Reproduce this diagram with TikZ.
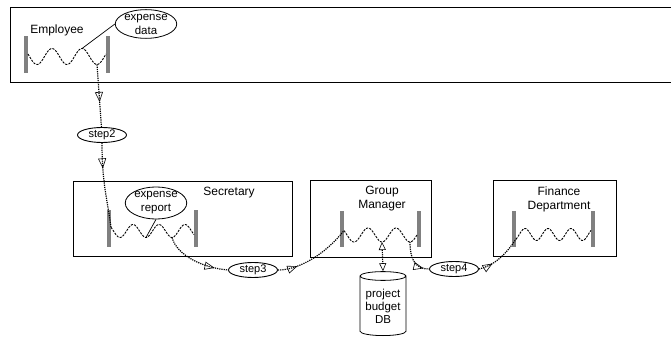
\documentclass[tikz,border=0pt]{standalone}
\usepackage{fontspec}
\setmainfont{Liberation Sans}
\usetikzlibrary{arrows.meta,decorations.markings,shapes.geometric}
\begin{document}
\begin{tikzpicture}[x=1pt,y=-1pt,
  every node/.style={font=\fontsize{12}{14}\selectfont},
  box/.style={draw, line width=0.8pt, anchor=north west, inner sep=0},
  lbl/.style={align=center, inner sep=0},
  bar/.style={fill=black!50, minimum width=4.5pt, minimum height=37pt, inner sep=0},
  wave/.style={line width=0.9pt, dash pattern=on 2.2pt off 1.2pt},
  callout/.style={draw, ellipse, line width=0.8pt, inner sep=0, align=center, font=\fontsize{11.5}{14}\selectfont},
  stepnode/.style={draw, ellipse, line width=0.9pt, inner sep=0, minimum width=49pt, minimum height=15pt, font=\fontsize{11}{12}\selectfont},
  flow/.style={densely dotted, line width=1.2pt, postaction={decorate}, decoration={markings, mark=at position #1 with {\arrow[solid, line width=0.6pt]{Triangle[open, length=10pt, width=8pt]}}}},
  dbflow/.style={densely dotted, line width=1.2pt, {Triangle[open, length=8pt, width=7pt, line width=0.6pt]}-{Triangle[open, length=8pt, width=7pt, line width=0.6pt]}},
  link/.style={line width=0.7pt}
]
\useasboundingbox (0,0) rectangle (671,339);
\clip (0,0) rectangle (671,339);

% swimlane boxes
\node[box, minimum width=680pt, minimum height=75pt] (employee) at (10,7) {};
\node[box, minimum width=219pt, minimum height=75pt] (secretary) at (73,181) {};
\node[box, minimum width=121pt, minimum height=77pt] (gm) at (310,180) {};
\node[box, minimum width=123pt, minimum height=76pt] (finance) at (493,180) {};

% labels
\node[lbl] (emplbl) at (57,30) {Employee};
\node[lbl] (seclbl) at (229,193) {Secretary};
\node[lbl] (gmlbl) at (382,199) {Group\\Manager};
\node[lbl] (finlbl) at (559,199) {Finance\\Department};

% bars
\node[bar] (eb1) at (26,54.5) {};
\node[bar] (eb2) at (108,54.5) {};
\node[bar] (sb1) at (109,228.5) {};
\node[bar] (sb2) at (196,228.5) {};
\node[bar, minimum height=36pt] (gb1) at (342,228.5) {};
\node[bar, minimum height=36pt] (gb2) at (419,228.5) {};
\node[bar, minimum height=36pt] (fb1) at (514,229) {};
\node[bar, minimum height=36pt] (fb2) at (593,229) {};

% waves
\draw[wave] plot[domain=28:106, samples=90, smooth] (\x, {56.5+8*cos(180*(\x-37)/15)});
\draw[wave] plot[domain=111:194, samples=90, smooth] (\x, {231+6.5*cos(180*(\x-146)/13)});
\draw[wave] plot[domain=344:417, samples=90, smooth] (\x, {235+7*cos(180*(\x-382)/14)});
\draw[wave] plot[domain=516:591, samples=90, smooth] (\x, {234.5+6*cos(180*(\x-536.5)/11.5)});

% wave points
\coordinate (ewp) at (82,48.5);
\coordinate (ewt) at (97,64.5);
\coordinate (sw0) at (111,227.3);
\coordinate (swt1) at (146,237.5);
\coordinate (swt2) at (172,237.5);
\coordinate (gw0) at (344,230.6);
\coordinate (gwt1) at (382,242);
\coordinate (gwt2) at (410,242);
\coordinate (fw0) at (516,239.1);

% callouts
\node[callout, minimum width=55pt, minimum height=28pt] (edata) at (146,24) {expense\\data};
\node[callout, minimum width=54pt, minimum height=27pt] (ereport) at (156,203) {expense\\report};
\draw[link] (ewp) -- (edata.west);
\draw[link] (swt1) -- (ereport.south);

% steps
\node[stepnode] (step2) at (102,135) {step2};
\node[stepnode] (step3) at (253,270) {step3};
\node[stepnode] (step4) at (454,269) {step4};

% database
\node[cylinder, shape border rotate=90, draw, line width=0.8pt, aspect=0.25, minimum width=46pt, minimum height=64pt, align=center, inner sep=0, font=\fontsize{11.5}{13}\selectfont] (db) at (383,306) {project\\budget\\DB};

% connectors
\draw[flow=0.6] (ewt) -- (step2);
\draw[flow=0.3] (step2.south) .. controls +(0,40) and +(-4,-30) .. (sw0);
\draw[flow=0.8] (swt2) .. controls +(5,18) and +(-25,-2) .. (step3.west);
\draw[flow=0.25] (step3.east) .. controls +(20,0) and +(-20,25) .. (gw0);
\draw[flow=0.85] (gwt2) .. controls +(0,20) and +(-12,0) .. (step4.west);
\draw[flow=0.3] (step4.east) .. controls +(15,-3) and +(-10,15) .. (fw0);
\draw[dbflow] (gwt1) -- (db.top);
\end{tikzpicture}
\end{document}
